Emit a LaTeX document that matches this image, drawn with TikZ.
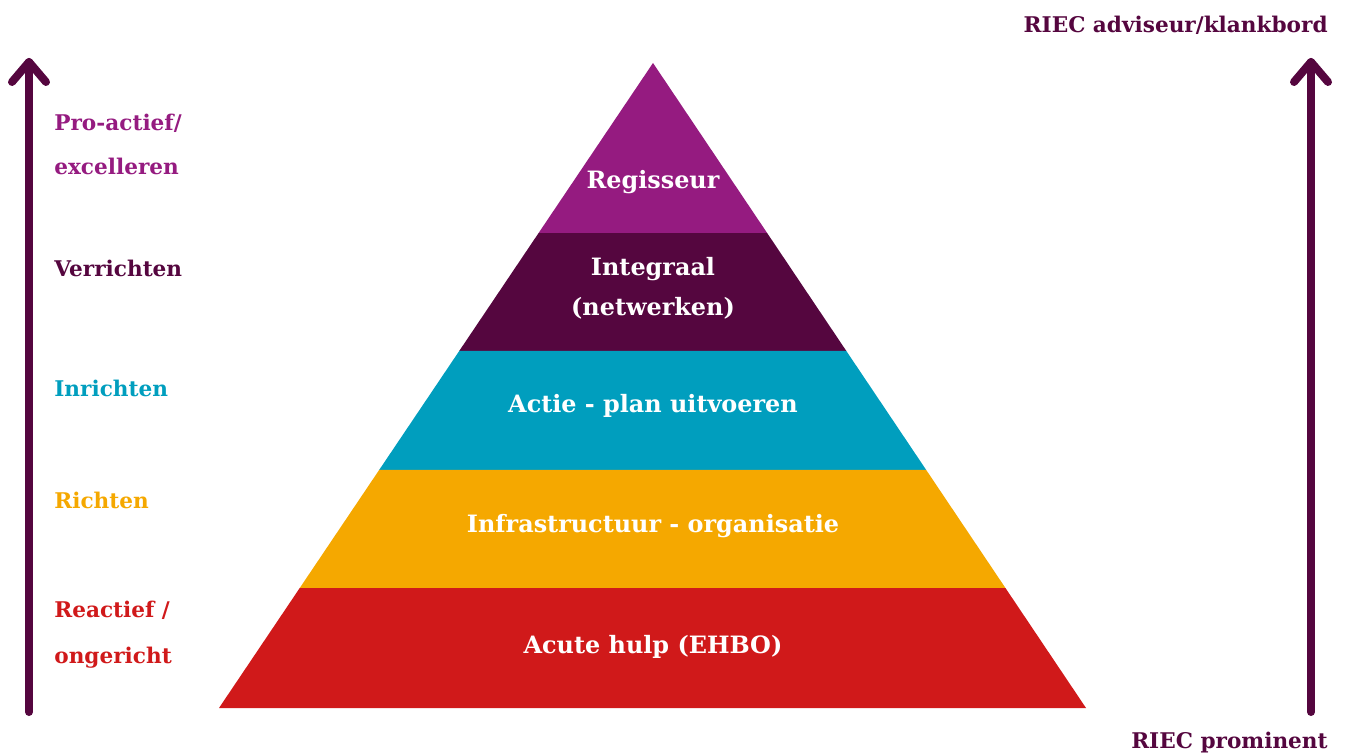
\documentclass[tikz,border=0pt]{standalone}
\usepackage{fontspec}
\setmainfont{DejaVu Serif}
\usetikzlibrary{calc}
\definecolor{cTop}{HTML}{951B80}
\definecolor{cDark}{HTML}{55063F}
\definecolor{cTeal}{HTML}{009EBE}
\definecolor{cOrange}{HTML}{F5A800}
\definecolor{cRed}{HTML}{D0191A}
\tikzset{
  intext/.style={text=white, font=\bfseries\fontsize{13.6}{16}\selectfont, align=center, inner sep=0pt},
  lbl/.style={anchor=west, font=\bfseries\fontsize{12.3}{15}\selectfont, inner sep=0pt, text height=1.6ex, text depth=.4ex},
  rlbl/.style={anchor=east, text=cDark, font=\bfseries\fontsize{12.3}{15}\selectfont, inner sep=0pt, text height=1.6ex, text depth=.4ex},
  bigarrow/.style={draw=cDark, line width=8*0.02cm, line cap=round, line join=round}
}
\begin{document}
\begin{tikzpicture}[x=0.02cm,y=-0.02cm]
\useasboundingbox (0,0) rectangle (1346,756);
% pyramid
\coordinate (A) at (653,63);
\coordinate (BL) at (219,708);
\coordinate (BR) at (1086,708);
\coordinate (L1) at ($(A)!0.2636!(BL)$);
\coordinate (R1) at ($(A)!0.2636!(BR)$);
\coordinate (L2) at ($(A)!0.4465!(BL)$);
\coordinate (R2) at ($(A)!0.4465!(BR)$);
\coordinate (L3) at ($(A)!0.6310!(BL)$);
\coordinate (R3) at ($(A)!0.6310!(BR)$);
\coordinate (L4) at ($(A)!0.8140!(BL)$);
\coordinate (R4) at ($(A)!0.8140!(BR)$);
\fill[cTop] (A) -- (R1) -- (L1) -- cycle;
\fill[cDark] (L1) -- (R1) -- (R2) -- (L2) -- cycle;
\fill[cTeal] (L2) -- (R2) -- (R3) -- (L3) -- cycle;
\fill[cOrange] (L3) -- (R3) -- (R4) -- (L4) -- cycle;
\fill[cRed] (L4) -- (R4) -- (BR) -- (BL) -- cycle;
\node[intext] (t1) at (653,182) {Regisseur};
\node[intext] (t2) at (653,288) {Integraal\\[7pt](netwerken)};
\node[intext] (t3) at (653,406) {Actie - plan uitvoeren};
\node[intext] (t4) at (653,526) {Infrastructuur - organisatie};
\node[intext] (t5) at (653,647) {Acute hulp (EHBO)};
% arrows
\coordinate (la0) at (29,712);
\coordinate (la1) at (29,62);
\coordinate (ra0) at (1311,712);
\coordinate (ra1) at (1311,62);
\draw[bigarrow] (la0) -- (la1);
\draw[bigarrow] ($(la1)+(-17,20)$) -- (la1) -- ($(la1)+(17,20)$);
\draw[bigarrow] (ra0) -- (ra1);
\draw[bigarrow] ($(ra1)+(-17,20)$) -- (ra1) -- ($(ra1)+(17,20)$);
% left labels
\node[lbl, text=cTop] (p1) at (54,125) {Pro-actief/};
\node[lbl, text=cTop] (p2) at (54,169) {excelleren};
\node[lbl, text=cDark] (v) at (54,271) {Verrichten};
\node[lbl, text=cTeal] (i) at (54,391) {Inrichten};
\node[lbl, text=cOrange] (r) at (54,503) {Richten};
\node[lbl, text=cRed] (re1) at (54,612) {Reactief /};
\node[lbl, text=cRed] (re2) at (54,658) {ongericht};
% right labels
\node[rlbl] (top) at (1328,27) {RIEC adviseur/klankbord};
\node[rlbl] (bot) at (1328,743) {RIEC prominent};
\end{tikzpicture}
\end{document}
